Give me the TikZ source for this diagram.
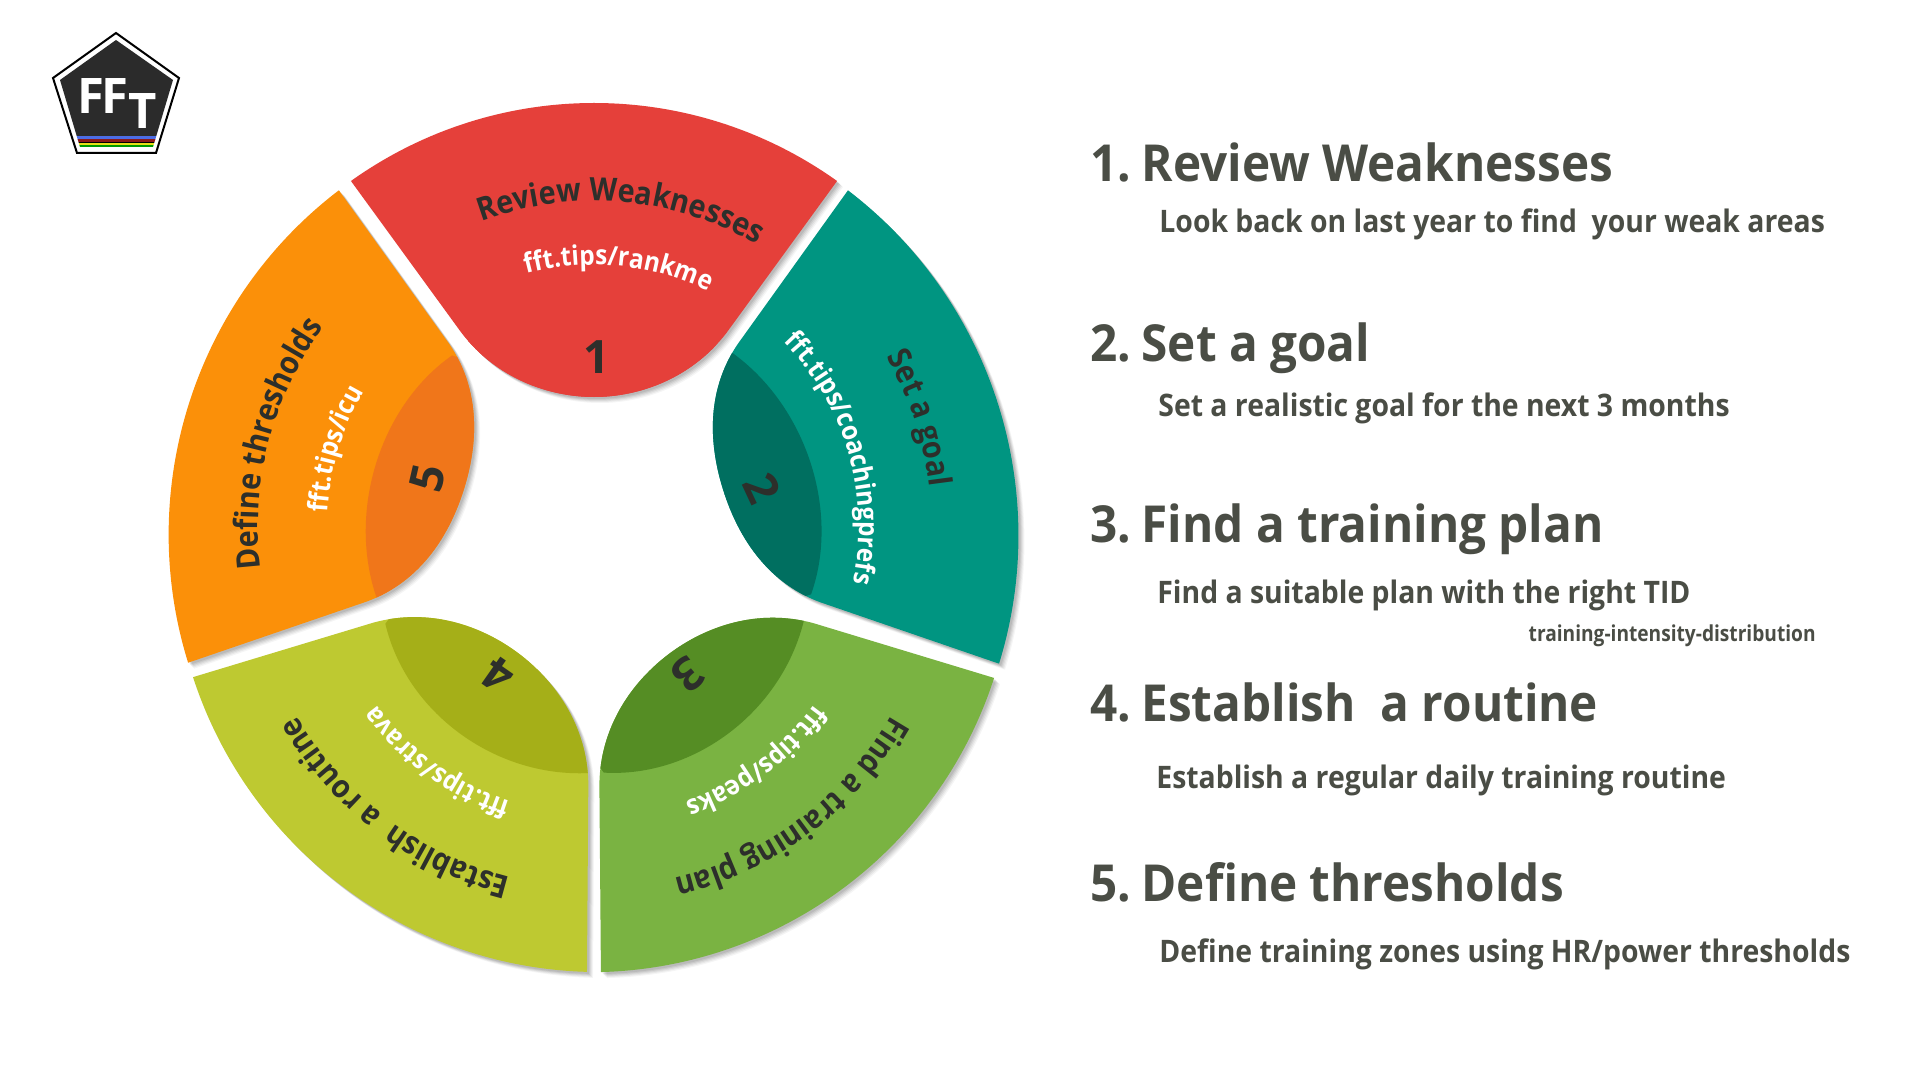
\documentclass[tikz,border=0pt]{standalone}
\usepackage{fontspec}
\usetikzlibrary{decorations.text}
\setmainfont{Open Sans}
\newfontfamily\wheelf[FakeStretch=.9]{Open Sans}
\newfontfamily\headf[FakeStretch=.935]{Open Sans}
\newfontfamily\subf[FakeStretch=.915]{Open Sans}
\newfontfamily\tinyf[FakeStretch=.87]{Open Sans}
\definecolor{ink}{HTML}{2D2F2B}
\definecolor{listink}{HTML}{4A4D45}
\definecolor{cRed}{HTML}{E5403A}
\definecolor{cTeal}{HTML}{009581}
\definecolor{cTealD}{HTML}{006F60}
\definecolor{cGreen}{HTML}{7AB342}
\definecolor{cGreenD}{HTML}{558D24}
\definecolor{cYel}{HTML}{BEC931}
\definecolor{cYelD}{HTML}{A5AF18}
\definecolor{cOr}{HTML}{FB9009}
\definecolor{cOrD}{HTML}{F0761A}
\definecolor{logoD}{HTML}{2B2B2B}
\def\segpath{(-246,0) .. controls (-98.5,-104) and (98.5,-104) .. (246,0) -- (134,152) .. controls (98,198) and (45,\dd) .. (0,\dd) .. controls (-45,\dd) and (-98,198) .. (-134,152) -- cycle}
% mid x, mid y, angle, half-chord scale, depth, lobe control, colour, dark colour
\newcommand\wheelseg[8]{%
  \def\dd{#5}%
  \foreach \s/\o in {6/.04,5/.05,4/.06,3/.07,2/.08}{%
    \fill[black,opacity=\o,shift={(#1+\s,#2+\s)},rotate=-#3,xscale=#4] \segpath;}
  \begin{scope}[shift={(#1,#2)},rotate=-#3,xscale=#4]
    \fill[#7] \segpath;
    \begin{scope}
      \clip \segpath;
      \fill[#8] (-128,160) .. controls (-55,#6) and (55,#6) .. (124,158) -- (124,260) -- (-128,260) -- cycle;
    \end{scope}
  \end{scope}}
% centre x, centre y, radius, start and end (degrees clockwise from the top), size, colour, text
\newcommand\arctext[8]{%
  \begin{scope}[shift={(#1,#2)},x=.5pt,y=.5pt]
    \path[decorate,decoration={text along path,text align={center},
      text={|\wheelf\bfseries\fontsize{#6}{#6}\selectfont\color{#7}|#8}}]
      ({90-(#4)+25}:#3) arc[start angle={90-(#4)+25},end angle={90-(#5)-25},radius=#3];
  \end{scope}}
\tikzset{
  bignum/.style={font=\bfseries\fontsize{23}{23}\selectfont,text=ink,inner sep=0pt},
  head/.style={anchor=base west,inner sep=0pt,text=listink,font=\headf\bfseries\fontsize{25.5}{25.5}\selectfont},
  sub/.style={anchor=base west,inner sep=0pt,text=listink,font=\subf\bfseries\fontsize{15.5}{15.5}\selectfont},
  tiny/.style={anchor=base east,inner sep=0pt,text=listink,font=\tinyf\bfseries\fontsize{11}{11}\selectfont},
  logot/.style={anchor=base west,inner sep=0pt,text=white,font=\bfseries\fontsize{24.5}{24.5}\selectfont},
}
\begin{document}
\begin{tikzpicture}[x=.5pt,y=-.5pt]
\useasboundingbox (0,0) rectangle (1920,1080);
\fill[white] (0,0) rectangle (1920,1080);
% logo
\draw[black,line width=1pt,fill=white,line join=miter] (116,33) -- (179,78) -- (156,153) -- (77,153) -- (53,78) -- cycle;
\begin{scope}
  \clip (116,40) -- (173,80) -- (153,147) -- (80,147) -- (60,80) -- cycle;
  \fill[logoD] (40,30) rectangle (190,136);
  \fill[cTeal!30!blue!70!white] (40,136) rectangle (190,140);
  \fill[red!50!black!90!white] (40,139) rectangle (190,142);
  \fill[black] (40,142) rectangle (190,143.5);
  \fill[yellow!90!black] (40,143.5) rectangle (190,145);
  \fill[green!60!black] (40,145) rectangle (190,147);
\end{scope}
\node[logot] (logoA) at (77,114) {F};
\node[logot] (logoB) at (101,114) {F};
\node[logot] (logoC) at (128,129) {T};
% wheel
\wheelseg{594}{181}{0}{.988}{216}{96}{cRed}{cRed}
\wheelseg{923.5}{427}{72.3}{1.01}{210}{105}{cTeal}{cTealD}
\wheelseg{797.5}{825}{143.2}{.998}{214}{100}{cGreen}{cGreenD}
\wheelseg{390}{824.5}{216.8}{1}{214}{100}{cYel}{cYelD}
\wheelseg{263.5}{426.5}{287.7}{1.008}{210}{105}{cOr}{cOrD}
% curved labels
\arctext{594}{527}{326}{-20}{29.8}{16}{ink}{Review Weaknesses}
\arctext{594}{527}{262}{-15}{25.8}{13.5}{white}{fft.tips/rankme}
\arctext{594}{527}{338}{60}{83}{16}{ink}{Set a goal}
\arctext{594}{527}{265}{46}{101.8}{13.5}{white}{fft.tips/coachingprefs}
\arctext{594}{545}{343}{120.3}{166}{16}{ink}{Find a training plan}
\arctext{594}{545}{272}{125.9}{160.5}{13.5}{white}{fft.tips/peaks}
\arctext{594}{545}{343}{194.4}{239.8}{16}{ink}{Establish{~}{~}a routine}
\arctext{594}{545}{270}{198}{233.6}{13.5}{white}{fft.tips/strava}
\arctext{594}{527}{336}{263.4}{306}{16}{ink}{Define thresholds}
\arctext{594}{527}{267}{273.6}{300}{13.5}{white}{fft.tips/icu}
% numbers
\node[bignum] (n1) at (597,357) {1};
\node[bignum,rotate=-65] (n2) at (762,488) {2};
\node[bignum,rotate=-140] (n3) at (688,675) {3};
\node[bignum,rotate=-215] (n4) at (498,675) {4};
\node[bignum,rotate=-283] (n5) at (428,478) {5};
% list
\node[head] (h1) at (1090,182) {1.\kern-1pt\ Review Weaknesses};
\node[sub] (s1) at (1159,233) {Look back on last year to find\ \ your weak areas};
\node[head] (h2) at (1090,362) {2.\kern-1pt\ Set a goal};
\node[sub] (s2) at (1158,416) {Set a realistic goal for the next 3 months};
\node[head] (h3) at (1090,542) {3.\kern-1pt\ Find a training plan};
\node[sub] (s3) at (1157,603) {Find a suitable plan with the right TID};
\node[tiny] (s3b) at (1816,641) {training-intensity-distribution};
\node[head] (h4) at (1090,721) {4.\kern-1pt\ Establish\ \ a routine};
\node[sub] (s4) at (1156,788) {Establish a regular daily training routine};
\node[head] (h5) at (1090,901) {5.\kern-1pt\ Define thresholds};
\node[sub] (s5) at (1159,962) {Define training zones using HR/power thresholds};
\end{tikzpicture}
\end{document}
